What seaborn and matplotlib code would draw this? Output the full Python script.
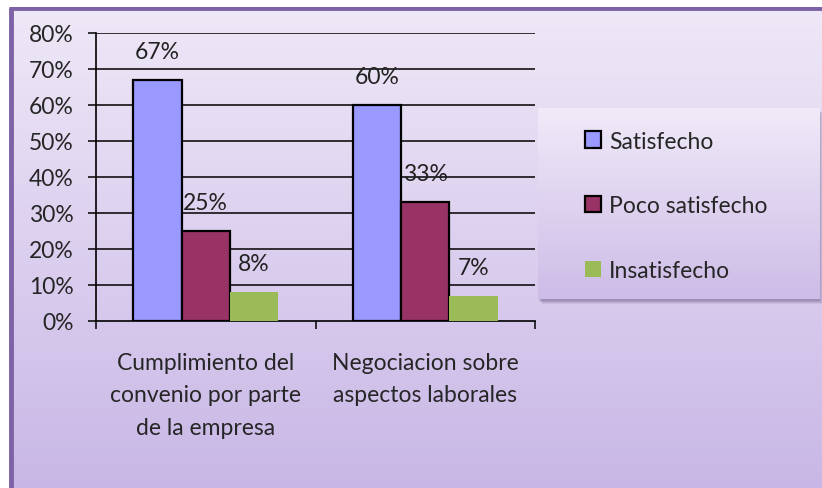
import numpy as np
import pandas as pd
import matplotlib.pyplot as plt
import seaborn as sns
from matplotlib.patches import Rectangle
from matplotlib.ticker import FixedLocator

# datos del grafico
categorias = ["Cumplimiento del\nconvenio por parte\nde la empresa",
              "Negociacion sobre\naspectos laborales"]
niveles = ["Satisfecho", "Poco satisfecho", "Insatisfecho"]
satisfecho = [0.67, 0.60]
poco_satisfecho = [0.25, 0.33]
insatisfecho = [0.08, 0.07]
colores = ["#9999FF", "#993366", "#9BBB59"]

df = pd.DataFrame({
    "categoria": categorias * 3,
    "nivel": [n for n in niveles for _ in categorias],
    "valor": satisfecho + poco_satisfecho + insatisfecho,
})

sns.set_theme(style="white")
plt.rcParams["font.family"] = ["Lato", "DejaVu Sans"]
FS = 16.5

W, H = 822, 489
fig = plt.figure(figsize=(W / 100, H / 100), dpi=100)
fig.patch.set_facecolor("white")

# fondo degradado del grafico
bg = fig.add_axes([9 / W, 0, 1 - 9 / W, (H - 8) / H])
bg.set_zorder(0)
grad = np.linspace(0, 1, 256).reshape(-1, 1)
cmap_bg = plt.matplotlib.colors.LinearSegmentedColormap.from_list("bg", ["#EFE8F7", "#C8B7E6"])
bg.imshow(grad, aspect="auto", cmap=cmap_bg, extent=[0, 1, 0, 1], origin="upper")
bg.set_xlim(0, 1)
bg.set_ylim(0, 1)
bg.axis("off")
bg.plot([0.002, 0.002], [0, 0.997], color="#7E62A6", lw=3.5, solid_capstyle="butt")
bg.plot([0, 1], [0.997, 0.997], color="#7E62A6", lw=3.5, solid_capstyle="butt")

# sombra de la leyenda (dibujada en el eje de fondo)
lx0, ly0, lx1, ly1 = 538, 109, 819, 300
bx0, by0 = 9, 8
bw, bh = W - bx0, H - by0
for k, a in [(5, 0.10), (4, 0.12), (3, 0.15), (2, 0.18)]:
    bg.add_patch(Rectangle(((lx0 - bx0 + k - 1) / bw, (H - ly1 - k) / bh),
                           (lx1 - lx0) / bw, (ly1 - ly0) / bh,
                           facecolor="#5A4A75", alpha=a, edgecolor="none", zorder=3))

# area de trazado
ax = fig.add_axes([96 / W, (H - 322) / H, (535 - 96) / W, (322 - 34) / H])
ax.set_zorder(1)
ax.set_facecolor("none")
sns.barplot(data=df, x="categoria", y="valor", hue="nivel", hue_order=niveles,
            palette=colores, width=0.66, saturation=1, ax=ax, legend=True, zorder=3)

for cont, nivel in zip(ax.containers, niveles):
    for bar in cont:
        if nivel == "Insatisfecho":
            bar.set_edgecolor("none")
        else:
            bar.set_edgecolor("black")
            bar.set_linewidth(1.6)
    ax.bar_label(cont, labels=[f"{v * 100:.0f}%" for v in cont.datavalues],
                 padding=13, fontsize=FS, color="#222222")

ax.set_ylim(0, 0.8)
ax.set_xlim(-0.5, 1.5)
ax.set_yticks(np.arange(0, 0.81, 0.1))
ax.set_yticklabels([f"{int(round(t * 100))}%" for t in np.arange(0, 0.81, 0.1)], fontsize=FS)
for t in np.arange(0.1, 0.81, 0.1):
    ax.axhline(t, color="black", lw=1.1, zorder=1)

ax.xaxis.set_minor_locator(FixedLocator([-0.5, 0.5, 1.5]))
ax.tick_params(axis="x", which="major", length=0, pad=22, labelsize=FS)
ax.tick_params(axis="x", which="minor", length=6, width=1.1, color="black", direction="out")
ax.tick_params(axis="y", length=6, width=1.1, color="black", direction="out", pad=10)
ax.xaxis.set_ticks_position("bottom")
ax.yaxis.set_ticks_position("left")
for lbl in ax.get_xticklabels():
    lbl.set_linespacing(1.7)
    lbl.set_ha("center")
ax.set_xlabel("")
ax.set_ylabel("")
for s in ["top", "right"]:
    ax.spines[s].set_visible(False)
for s in ["left", "bottom"]:
    ax.spines[s].set_color("black")
    ax.spines[s].set_linewidth(1.2)

handles, labels = ax.get_legend_handles_labels()
ax.get_legend().remove()
for h, nivel in zip(handles, labels):
    if nivel == "Insatisfecho":
        h.set_edgecolor("none")
    else:
        h.set_edgecolor("black")
        h.set_linewidth(1.6)

# caja de la leyenda
lg = fig.add_axes([lx0 / W, (H - ly1) / H, (lx1 - lx0) / W, (ly1 - ly0) / H])
lg.set_zorder(2)
cmap_lg = plt.matplotlib.colors.LinearSegmentedColormap.from_list("lg", ["#F0EAF8", "#CDBCE7"])
lg.imshow(grad, aspect="auto", cmap=cmap_lg, extent=[0, 1, 0, 1], origin="upper")
lg.set_xlim(0, 1)
lg.set_ylim(0, 1)
lg.axis("off")
lg.legend(handles, labels, loc="upper left", bbox_to_anchor=(0.135, 0.93), frameon=False,
          fontsize=FS, labelspacing=1.9, handlelength=0.7, handleheight=0.7,
          handletextpad=0.35, borderaxespad=0)

fig.savefig("out.png", dpi=100)
